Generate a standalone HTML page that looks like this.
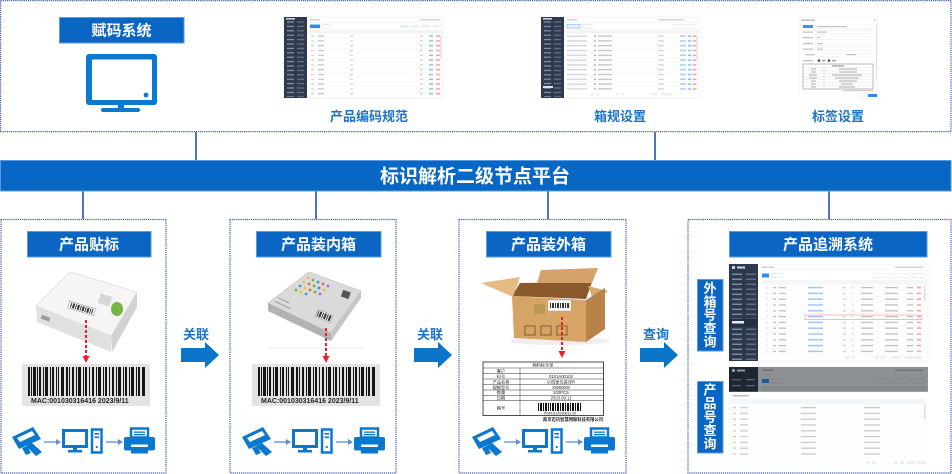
<!DOCTYPE html>
<html><head><meta charset="utf-8"><title>标识解析二级节点平台</title>
<style>
html,body{margin:0;padding:0;background:#fff;width:952px;height:474px;overflow:hidden}
svg{display:block}
text{font-family:"Liberation Sans","Noto Sans CJK SC",sans-serif}
.lb{font-weight:700;fill:#fff;font-size:15px;text-anchor:middle}
.bt{font-weight:700;fill:#1b73c7;font-size:13px;text-anchor:middle}
.vt{font-weight:700;fill:#fff;font-size:13px;text-anchor:middle}
.tt{font-size:4.2px;fill:#222;text-anchor:middle}
.mac{font-family:"Liberation Sans",sans-serif;font-weight:700;font-size:7px;fill:#222}
</style></head><body>
<svg width="952" height="474" viewBox="0 0 952 474" xmlns="http://www.w3.org/2000/svg">
<defs>
  <pattern id="sbA" x="0" y="3" width="23" height="4.4" patternUnits="userSpaceOnUse">
    <rect x="3" y="1.4" width="7" height="1.2" fill="#8b97a7"/>
    <rect x="13" y="1.4" width="7" height="1.2" fill="#66748a"/>
  </pattern>
  <pattern id="sbS" x="0" y="8" width="29" height="5" patternUnits="userSpaceOnUse">
    <rect x="3" y="1.6" width="10" height="1.3" fill="#8b97a7"/>
    <rect x="17" y="1.6" width="10" height="1.3" fill="#66748a"/>
  </pattern>
  <pattern id="pA" x="0" y="17" width="159" height="4.8" patternUnits="userSpaceOnUse">
    <rect x="27" y="1.5" width="3" height="1.2" fill="#cfcfcf"/>
    <rect x="34" y="1.5" width="6" height="1.2" fill="#bdbdbd"/>
    <rect x="66" y="1.5" width="3" height="1.2" fill="#cfcfcf"/>
    <rect x="136" y="1.5" width="3" height="1.2" fill="#cfcfcf"/>
    <rect x="145" y="1.3" width="4" height="1.6" fill="#8ec0f7"/>
    <rect x="152" y="1.3" width="4" height="1.6" fill="#f5a5a5"/>
    <rect x="23" y="4.5" width="136" height="0.3" fill="#eeeeee"/>
  </pattern>
  <pattern id="pB" x="0" y="17" width="158" height="4.8" patternUnits="userSpaceOnUse">
    <rect x="26" y="1.5" width="20" height="1.2" fill="#cfcfcf"/>
    <rect x="53" y="1.3" width="2" height="1.6" fill="#8ec0f7"/>
    <rect x="57" y="1.5" width="14" height="1.2" fill="#bdbdbd"/>
    <rect x="117" y="1.5" width="6" height="1.2" fill="#cfcfcf"/>
    <rect x="139" y="1.3" width="6" height="1.6" fill="#a9cff7"/>
    <rect x="147" y="1.3" width="3.5" height="1.6" fill="#8ec0f7"/>
    <rect x="152" y="1.3" width="3.5" height="1.6" fill="#f5a5a5"/>
    <rect x="23" y="4.5" width="135" height="0.3" fill="#eeeeee"/>
  </pattern>
  <pattern id="pS" x="0" y="21" width="199" height="5.8" patternUnits="userSpaceOnUse">
    <circle cx="38" cy="2.5" r="1.1" fill="none" stroke="#cfcfcf" stroke-width="0.4"/>
    <rect x="44" y="1.9" width="3" height="1.3" fill="#bdbdbd"/>
    <rect x="50" y="1.9" width="7" height="1.3" fill="#bdbdbd"/>
    <rect x="79" y="1.8" width="15" height="1.5" fill="#9ec5f5"/>
    <rect x="114" y="1.9" width="3" height="1.3" fill="#cfcfcf"/>
    <rect x="123" y="1.9" width="1.5" height="1.3" fill="#cfcfcf"/>
    <rect x="132" y="1.9" width="12" height="1.3" fill="#bdbdbd"/>
    <rect x="156" y="1.9" width="13" height="1.3" fill="#bdbdbd"/>
    <rect x="178" y="1.9" width="6" height="1.3" fill="#bdbdbd"/>
    <rect x="188" y="1.8" width="4" height="1.5" fill="#f3a0a0"/>
    <rect x="33" y="5.5" width="164" height="0.3" fill="#efefef"/>
  </pattern>
  <pattern id="pT" x="0" y="38" width="199" height="5.8" patternUnits="userSpaceOnUse">
    <rect x="4" y="1.9" width="3" height="1.3" fill="#c8c8c8"/>
    <rect x="11" y="1.9" width="8" height="1.3" fill="#c8c8c8"/>
    <rect x="72" y="1.9" width="15" height="1.3" fill="#c8c8c8"/>
    <rect x="135" y="1.9" width="16" height="1.3" fill="#c8c8c8"/>
    <rect x="2" y="5.5" width="194" height="0.3" fill="#efefef"/>
  </pattern>
  <g id="bc" fill="#161616">
    <rect x="0" width="2" height="29"/><rect x="3" width="1" height="29"/><rect x="5" width="3" height="29"/>
    <rect x="9" width="1" height="29"/><rect x="11" width="2" height="29"/><rect x="15" width="1" height="29"/>
    <rect x="17" width="3" height="29"/><rect x="22" width="1" height="29"/><rect x="24" width="2" height="29"/>
    <rect x="28" width="1" height="29"/><rect x="30" width="1" height="29"/><rect x="33" width="3" height="29"/>
    <rect x="38" width="2" height="29"/><rect x="41" width="1" height="29"/><rect x="44" width="2" height="29"/>
    <rect x="48" width="1" height="29"/><rect x="50" width="3" height="29"/><rect x="55" width="1" height="29"/>
    <rect x="57" width="2" height="29"/><rect x="61" width="1" height="29"/><rect x="64" width="2" height="29"/>
    <rect x="68" width="1" height="29"/><rect x="70" width="3" height="29"/><rect x="75" width="1" height="29"/>
    <rect x="77" width="2" height="29"/><rect x="81" width="1" height="29"/><rect x="84" width="2" height="29"/>
    <rect x="88" width="1" height="29"/><rect x="90" width="3" height="29"/><rect x="95" width="1" height="29"/>
    <rect x="97" width="2" height="29"/><rect x="101" width="1" height="29"/><rect x="103" width="3" height="29"/>
    <rect x="108" width="1" height="29"/><rect x="110" width="2" height="29"/><rect x="114" width="3" height="29"/>
  </g>
  <g id="icons">
    <g fill="#0b78d0">
      <polygon points="12,437 33,427 41,439 19,449"/>
      <polygon points="17,438 32,431 35,435 20,442" fill="#fff"/>
      <polygon points="26,446 32,443 42,452 36,456"/>
      <polygon points="22,448 27,446 31,453 26,455"/>
    </g>
    <line x1="44" y1="442" x2="57" y2="442" stroke="#5b8fd8" stroke-width="1.3"/>
    <polygon points="56,439 61,442 56,445" fill="#5b8fd8"/>
    <rect x="63.5" y="430.5" width="23" height="16" fill="#fff" stroke="#0b78d0" stroke-width="3"/>
    <rect x="73" y="447" width="4" height="4" fill="#0b78d0"/>
    <rect x="68" y="450" width="14" height="2.5" fill="#0b78d0"/>
    <rect x="92" y="429.5" width="9.5" height="23" fill="#fff" stroke="#0b78d0" stroke-width="2.5"/>
    <rect x="94.5" y="433" width="4.5" height="1.6" fill="#0b78d0"/>
    <rect x="94.5" y="436.5" width="4.5" height="1.6" fill="#0b78d0"/>
    <circle cx="96.7" cy="447" r="1.1" fill="#0b78d0"/>
    <line x1="106" y1="442" x2="119" y2="442" stroke="#5b8fd8" stroke-width="1.3"/>
    <polygon points="118,439 123,442 118,445" fill="#5b8fd8"/>
    <rect x="131" y="428.5" width="17" height="9" fill="#fff" stroke="#0b78d0" stroke-width="2.5"/>
    <rect x="134" y="431.5" width="11" height="1.3" fill="#0b78d0"/>
    <rect x="134" y="434" width="11" height="1.3" fill="#0b78d0"/>
    <rect x="124" y="437" width="31" height="13.5" rx="2" fill="#0b78d0"/>
    <rect x="131" y="444.5" width="17" height="2.5" fill="#fff"/>
    <rect x="131" y="450" width="17" height="3.5" fill="#0b78d0"/>
  </g>
</defs>

<!-- TOP BOX -->
<rect x="0.6" y="0.6" width="950.4" height="131" fill="#fff" stroke="#3f5fa8" stroke-width="1.2" stroke-dasharray="1.2 0.9"/>
<rect x="59.5" y="17.5" width="124.5" height="25.5" fill="#0a66c2" stroke="#5b9ae0" stroke-width="1"/>
<text class="lb" x="121.5" y="35.5">赋码系统</text>
<rect x="86" y="54" width="71" height="51" rx="3" fill="#0b79d0"/>
<rect x="92" y="59.5" width="60" height="40.5" rx="1" fill="#fff"/>
<circle cx="146" cy="95" r="2.4" fill="#0b79d0"/>
<rect x="118" y="104" width="6" height="5" fill="#0b79d0"/>
<rect x="101" y="108" width="39" height="4" rx="2" fill="#0b79d0"/>

<!-- Screenshot A -->
<g transform="translate(284,17)">
  <rect x="0" y="0" width="159" height="81" fill="#fff" stroke="#e3e6ea" stroke-width="0.5"/>
  <rect x="0" y="0" width="23" height="81" fill="#2e3b4f"/>
  <rect x="0" y="3" width="23" height="77" fill="url(#sbA)"/>
  <rect x="2" y="1" width="9" height="1.6" fill="#c9d1dc"/>
  <rect x="26" y="2" width="10" height="1.4" fill="#cfcfcf"/>
  <rect x="136" y="2" width="20" height="1.4" fill="#cfcfcf"/>
  <rect x="23" y="5" width="136" height="0.4" fill="#eeeeee"/>
  <rect x="26" y="7.5" width="10" height="3.6" fill="#2f8cf3"/>
  <rect x="38" y="7.5" width="8" height="3.6" fill="#fff" stroke="#cccccc" stroke-width="0.4"/>
  <rect x="116" y="7.8" width="8" height="3" fill="#e4effd"/>
  <rect x="127" y="7.8" width="8" height="3" fill="#f1f1f1"/>
  <rect x="138" y="7.8" width="8" height="3" fill="#f1f1f1"/>
  <rect x="149" y="7.8" width="8" height="3" fill="#f1f1f1"/>
  <rect x="23" y="13" width="136" height="3.6" fill="#f3f4f6"/>
  <rect x="23" y="17" width="136" height="62" fill="url(#pA)"/>
  <rect x="156" y="18" width="1.5" height="24" fill="#e2e2e2"/>
</g>
<text class="bt" x="369" y="121">产品编码规范</text>

<!-- Screenshot B -->
<g transform="translate(541,17)">
  <rect x="0" y="0" width="158" height="81" fill="#fff" stroke="#e3e6ea" stroke-width="0.5"/>
  <rect x="0" y="0" width="23" height="81" fill="#2e3b4f"/>
  <rect x="0" y="3" width="23" height="77" fill="url(#sbA)"/>
  <rect x="2" y="1" width="9" height="1.6" fill="#c9d1dc"/>
  <rect x="2" y="69" width="10" height="2" fill="#dfe4ea"/>
  <rect x="26" y="2" width="10" height="1.4" fill="#cfcfcf"/>
  <rect x="118" y="2" width="25" height="1.4" fill="#cfcfcf"/>
  <rect x="23" y="5" width="135" height="0.4" fill="#eeeeee"/>
  <rect x="26" y="7.5" width="13" height="3.6" fill="#e8f2fe" stroke="#5ea4f5" stroke-width="0.5"/>
  <rect x="41" y="7.5" width="10" height="3.6" fill="#fff" stroke="#cccccc" stroke-width="0.4"/>
  <rect x="132" y="7.5" width="22" height="3.6" fill="#fff" stroke="#dddddd" stroke-width="0.4"/>
  <rect x="23" y="13" width="135" height="3.6" fill="#f3f4f6"/>
  <rect x="23" y="17" width="135" height="57" fill="url(#pB)"/>
  <rect x="155" y="18" width="1.5" height="26" fill="#e2e2e2"/>
  <rect x="50" y="76" width="3" height="2.5" fill="#eeeeee"/><rect x="55" y="76" width="3" height="2.5" fill="#eeeeee"/>
  <rect x="75" y="76" width="3" height="2.5" fill="#eeeeee"/><rect x="80" y="76" width="3" height="2.5" fill="#eeeeee"/>
  <rect x="110" y="76" width="6" height="2.5" fill="#eeeeee"/><rect x="120" y="76" width="10" height="2.5" fill="#eeeeee"/>
</g>
<text class="bt" x="620" y="121">箱规设置</text>

<!-- Screenshot C -->
<g transform="translate(799,18)">
  <rect x="0" y="0" width="78" height="74" fill="#fff" stroke="#ececec" stroke-width="0.5"/>
  <rect x="2" y="1.5" width="14" height="1.4" fill="#bdbdbd"/>
  <rect x="75" y="1.5" width="1.4" height="1.4" fill="#bdbdbd"/>
  <rect x="4" y="7" width="10" height="3" fill="#3e8ef0"/>
  <rect x="16" y="7" width="57" height="3.2" fill="#fff" stroke="#e3e3e3" stroke-width="0.4"/>
  <rect x="18" y="8" width="30" height="1.2" fill="#c4c4c4"/>
  <rect x="4" y="13.5" width="10" height="1.3" fill="#c4c4c4"/>
  <rect x="16" y="12.5" width="57" height="3.2" fill="#fff" stroke="#e3e3e3" stroke-width="0.4"/>
  <rect x="18" y="13.5" width="10" height="1.2" fill="#c4c4c4"/>
  <rect x="4" y="19" width="10" height="1.3" fill="#c4c4c4"/>
  <rect x="16" y="18" width="57" height="3.2" fill="#fff" stroke="#e3e3e3" stroke-width="0.4"/>
  <rect x="18" y="19" width="3" height="1.2" fill="#c4c4c4"/>
  <rect x="4" y="25" width="10" height="1.3" fill="#c4c4c4"/>
  <rect x="16" y="24" width="57" height="3.2" fill="#fff" stroke="#e3e3e3" stroke-width="0.4"/>
  <rect x="18" y="25" width="6" height="1.2" fill="#c4c4c4"/>
  <rect x="4" y="30.5" width="10" height="1.3" fill="#c4c4c4"/>
  <rect x="16" y="29.5" width="57" height="3.2" fill="#fff" stroke="#e3e3e3" stroke-width="0.4"/>
  <rect x="18" y="30.5" width="6" height="1.2" fill="#c4c4c4"/>
  <rect x="6" y="36" width="10" height="1.3" fill="#c4c4c4"/>
  <rect x="18" y="35" width="24" height="3.2" fill="#fff" stroke="#e3e3e3" stroke-width="0.4"/>
  <rect x="47" y="36" width="10" height="1.3" fill="#c4c4c4"/>
  <rect x="59" y="35" width="14" height="3.2" fill="#fff" stroke="#e3e3e3" stroke-width="0.4"/>
  <rect x="4" y="42" width="10" height="1.3" fill="#c4c4c4"/>
  <circle cx="20" cy="42.6" r="1.3" fill="#555"/><rect x="23" y="42" width="3" height="1.3" fill="#999"/>
  <circle cx="30" cy="42.6" r="1.3" fill="#555"/><rect x="33" y="42" width="4" height="1.3" fill="#999"/>
  <rect x="4" y="46" width="70" height="25" fill="#fff" stroke="#a9a9a9" stroke-width="0.8"/>
  <rect x="33" y="47.3" width="12" height="1.2" fill="#999"/>
  <line x1="25" y1="49.5" x2="25" y2="70" stroke="#bbbbbb" stroke-width="0.4"/>
  <g stroke="#d5d5d5" stroke-width="0.3">
    <line x1="5" y1="49.5" x2="73" y2="49.5"/><line x1="5" y1="52.5" x2="73" y2="52.5"/>
    <line x1="5" y1="55.5" x2="73" y2="55.5"/><line x1="5" y1="58.5" x2="73" y2="58.5"/>
    <line x1="5" y1="61.5" x2="73" y2="61.5"/><line x1="5" y1="64.5" x2="73" y2="64.5"/>
    <line x1="5" y1="67.5" x2="73" y2="67.5"/>
  </g>
  <g fill="#aaaaaa">
    <rect x="12" y="50.5" width="5" height="1"/><rect x="40" y="50.5" width="18" height="1"/>
    <rect x="12" y="53.5" width="5" height="1"/><rect x="40" y="53.5" width="18" height="1"/>
    <rect x="10" y="56.5" width="8" height="1"/><rect x="33" y="56.5" width="30" height="1"/>
    <rect x="10" y="59.5" width="8" height="1"/><rect x="36" y="59.5" width="24" height="1"/>
    <rect x="12" y="62.5" width="5" height="1"/><rect x="40" y="62.5" width="18" height="1"/>
    <rect x="12" y="65.5" width="5" height="1"/><rect x="42" y="65.5" width="12" height="1"/>
    <rect x="12" y="68.5" width="5" height="1"/><rect x="40" y="68.5" width="16" height="1"/>
  </g>
  <rect x="44" y="72" width="30" height="1" fill="#cccccc"/>
  <rect x="77" y="7" width="1" height="55" fill="#e0e0e0"/>
  <rect x="60" y="76" width="7" height="3" fill="#fff" stroke="#ddd" stroke-width="0.4"/>
  <rect x="69" y="76" width="9" height="3" fill="#2f8cf3"/>
</g>
<text class="bt" x="838" y="121">标签设置</text>

<!-- CONNECTORS -->
<g stroke="#4b72c6" stroke-width="2">
  <line x1="196" y1="132" x2="196" y2="160"/>
  <line x1="655" y1="132" x2="655" y2="160"/>
  <line x1="83" y1="191" x2="83" y2="219"/>
  <line x1="316" y1="191" x2="316" y2="219"/>
  <line x1="548" y1="191" x2="548" y2="219"/>
  <line x1="829" y1="191" x2="829" y2="219"/>
</g>

<!-- PLATFORM BAR -->
<rect x="0.5" y="160.5" width="950.5" height="30.5" fill="#0866c4" stroke="#5a9ae0" stroke-width="1"/>
<text x="475" y="182.5" style="font-weight:700;fill:#fff;font-size:19px;text-anchor:middle">标识解析二级节点平台</text>

<!-- PANELS -->
<g fill="#fff" stroke="#3f5fa8" stroke-width="1.2" stroke-dasharray="1.2 0.9">
  <rect x="1" y="219.5" width="165" height="253.5"/>
  <rect x="230" y="219.5" width="166" height="253.5"/>
  <rect x="459" y="219.5" width="167" height="253.5"/>
  <rect x="688" y="219.5" width="263" height="253.5"/>
</g>

<g fill="#0a66c2" stroke="#5b9ae0" stroke-width="1">
  <rect x="27.5" y="231.5" width="123.5" height="25.5"/>
  <rect x="256.5" y="231.5" width="124.5" height="25.5"/>
  <rect x="486.5" y="231.5" width="124.5" height="25.5"/>
  <rect x="729.5" y="231.5" width="197.5" height="25.5"/>
  <rect x="697.5" y="279.5" width="25.5" height="71.5"/>
  <rect x="697.5" y="381.5" width="25.5" height="71.5"/>
</g>
<text class="lb" x="89" y="249.5">产品贴标</text>
<text class="lb" x="318.5" y="249.5">产品装内箱</text>
<text class="lb" x="548.5" y="249.5">产品装外箱</text>
<text class="lb" x="828" y="249.5">产品追溯系统</text>

<text class="vt" x="710" y="293">外</text>
<text class="vt" x="710" y="306.3">箱</text>
<text class="vt" x="710" y="319.6">号</text>
<text class="vt" x="710" y="333">查</text>
<text class="vt" x="710" y="346.3">询</text>
<text class="vt" x="710" y="394.5">产</text>
<text class="vt" x="710" y="408">品</text>
<text class="vt" x="710" y="421.5">号</text>
<text class="vt" x="710" y="435">查</text>
<text class="vt" x="710" y="448.5">询</text>

<!-- FLOW ARROWS -->
<g fill="#0a75c9">
  <rect x="181" y="348" width="25" height="14"/><polygon points="205,342 219,355 205,368"/>
  <rect x="414" y="348" width="25" height="14"/><polygon points="438,342 452,355 438,368"/>
  <rect x="640" y="348" width="25" height="14"/><polygon points="664,342 678,355 664,368"/>
</g>
<text class="bt" x="196" y="339">关联</text>
<text class="bt" x="430" y="339">关联</text>
<text class="bt" x="656" y="339">查询</text>

<!-- PANEL 1: device -->
<polygon points="36,306 111,336 111,352 37,322" fill="#e0e0e0"/>
<polygon points="111,336 137,292 137,307 112,352" fill="#d2d2d2"/>
<polygon points="36,306 70,272 137,292 111,336" fill="#f5f5f5" stroke="#dedede" stroke-width="0.8"/>
<rect x="41" y="316" width="9" height="4" fill="#9a9a9a" transform="rotate(20 45 318)"/>
<g transform="rotate(17 82 309)">
  <rect x="68" y="305" width="27" height="7" fill="#fff" stroke="#888" stroke-width="0.5"/>
  <g fill="#333"><rect x="70" y="306" width="1" height="5"/><rect x="72" y="306" width="2" height="5"/><rect x="75" y="306" width="1" height="5"/><rect x="77" y="306" width="2" height="5"/><rect x="80" y="306" width="1" height="5"/><rect x="82" y="306" width="2" height="5"/><rect x="85" y="306" width="1" height="5"/><rect x="87" y="306" width="2" height="5"/><rect x="90" y="306" width="1" height="5"/><rect x="92" y="306" width="1" height="5"/></g>
</g>
<rect x="99" y="295" width="12" height="10" fill="#d6d6d6" transform="rotate(17 105 300)"/>
<ellipse cx="117" cy="309" rx="6" ry="7" fill="#76b543"/>
<line x1="86" y1="320" x2="86" y2="357" stroke="#e8202a" stroke-width="2" stroke-dasharray="3 2"/>
<polygon points="82.5,356 89.5,356 86,363" fill="#e8202a"/>
<rect x="22" y="364" width="128" height="42" fill="#e3e3e3"/>
<use href="#bc" x="28" y="367"/>
<text class="mac" x="31" y="403">MAC:001030316416  2023/9/11</text>
<use href="#icons"/>

<!-- PANEL 2: board -->
<polygon points="268,303 331,333 331,341 268,311" fill="#b2b2b2"/>
<polygon points="331,333 361,291 361,298 331,341" fill="#c6c6c6"/>
<polygon points="268,303 309,272 361,291 331,333" fill="#dadada" stroke="#bdbdbd" stroke-width="0.6"/>
<g>
  <circle cx="308" cy="278" r="1.4" fill="#e8c23a"/><circle cx="313" cy="280" r="1.4" fill="#6cb24a"/><circle cx="318" cy="282" r="1.4" fill="#4a8fd8"/><circle cx="323" cy="284" r="1.4" fill="#e06a3a"/><circle cx="328" cy="286" r="1.4" fill="#b06ad0"/>
  <circle cx="304" cy="282" r="1.4" fill="#e8c23a"/><circle cx="309" cy="284" r="1.4" fill="#e06a3a"/><circle cx="314" cy="286" r="1.4" fill="#6cb24a"/><circle cx="319" cy="288" r="1.4" fill="#4a8fd8"/><circle cx="324" cy="290" r="1.4" fill="#e8c23a"/>
  <circle cx="300" cy="286" r="1.4" fill="#4a8fd8"/><circle cx="305" cy="288" r="1.4" fill="#e8c23a"/><circle cx="310" cy="290" r="1.4" fill="#e06a3a"/><circle cx="315" cy="292" r="1.4" fill="#6cb24a"/><circle cx="320" cy="294" r="1.4" fill="#b06ad0"/>
  <circle cx="296" cy="290" r="1.4" fill="#6cb24a"/><circle cx="301" cy="292" r="1.4" fill="#e8c23a"/><circle cx="306" cy="294" r="1.4" fill="#4a8fd8"/>
</g>
<rect x="342" y="291" width="8" height="7" fill="#555" transform="rotate(20 346 294)"/>
<g transform="rotate(22 324 316)">
  <rect x="316" y="312" width="16" height="8" fill="#f4f4f4" stroke="#777" stroke-width="0.4"/>
  <g fill="#333"><rect x="317" y="313" width="1" height="6"/><rect x="319" y="313" width="2" height="6"/><rect x="322" y="313" width="1" height="6"/><rect x="324" y="313" width="2" height="6"/><rect x="327" y="313" width="1" height="6"/><rect x="329" y="313" width="2" height="6"/></g>
</g>
<rect x="278" y="300" width="12" height="1" fill="#999" transform="rotate(25 284 300)"/>
<rect x="274" y="305" width="18" height="1" fill="#999" transform="rotate(25 284 305)"/>
<line x1="268" y1="348" x2="364" y2="348" stroke="#eeeeee" stroke-width="1"/>
<line x1="326" y1="328" x2="326" y2="357" stroke="#e8202a" stroke-width="2" stroke-dasharray="3 2"/>
<polygon points="322.5,356 329.5,356 326,363" fill="#e8202a"/>
<rect x="252" y="364" width="128" height="42" fill="#e3e3e3"/>
<use href="#bc" x="258" y="367"/>
<text class="mac" x="261" y="403">MAC:001030316416  2023/9/11</text>
<use href="#icons" x="230"/>

<!-- PANEL 3: carton -->
<ellipse cx="560" cy="341" rx="50" ry="4" fill="#eeeeee"/>
<polygon points="520,283 592,282 586,299 512,296" fill="#8a5a2c"/>
<polygon points="537,283 541,270 598,268 592,283" fill="#d4a26a"/>
<polygon points="481,283 520,277 513,297" fill="#e6bb82"/>
<polygon points="588,286 608,291 594,302" fill="#d9aa70"/>
<polygon points="512,296 586,300 586,342 514,338" fill="#d6a566"/>
<polygon points="586,300 605,288 605,329 586,342" fill="#b88348"/>
<rect x="534" y="304" width="11" height="10" fill="#b89a55"/>
<rect x="548" y="300" width="23" height="11" fill="#fff" stroke="#999" stroke-width="0.4"/>
<g fill="#333"><rect x="550" y="303" width="1" height="5"/><rect x="552" y="303" width="2" height="5"/><rect x="555" y="303" width="1" height="5"/><rect x="557" y="303" width="2" height="5"/><rect x="560" y="303" width="1" height="5"/><rect x="562" y="303" width="2" height="5"/><rect x="565" y="303" width="1" height="5"/><rect x="567" y="303" width="2" height="5"/></g>
<g fill="none" stroke="#6b4a26" stroke-width="0.8">
  <rect x="525" y="326" width="10" height="9"/><rect x="541" y="326" width="10" height="9"/><rect x="557" y="326" width="10" height="9"/>
</g>
<line x1="562" y1="317" x2="562" y2="352" stroke="#e8202a" stroke-width="2" stroke-dasharray="3 2"/>
<polygon points="558.5,351 565.5,351 562,358" fill="#e8202a"/>
<!-- label table -->
<rect x="483" y="362" width="120.5" height="53.5" fill="#fff" stroke="#222" stroke-width="0.8"/>
<g stroke="#333" stroke-width="0.5">
  <line x1="483" y1="368" x2="603.5" y2="368"/>
  <line x1="483" y1="373.5" x2="603.5" y2="373.5"/>
  <line x1="483" y1="379" x2="603.5" y2="379"/>
  <line x1="483" y1="384.5" x2="603.5" y2="384.5"/>
  <line x1="483" y1="390" x2="603.5" y2="390"/>
  <line x1="483" y1="395.3" x2="603.5" y2="395.3"/>
  <line x1="483" y1="400.7" x2="603.5" y2="400.7"/>
  <line x1="520" y1="368" x2="520" y2="415.5"/>
</g>
<text class="tt" x="543" y="366.5">物料标示单</text>
<text class="tt" x="501" y="372.3">客户</text>
<text class="tt" x="501" y="377.8">料号</text><text class="tt" x="561" y="377.8">0101A00102</text>
<text class="tt" x="501" y="383.3">产品名称</text><text class="tt" x="561" y="383.3">小四季互差评R</text>
<text class="tt" x="501" y="388.8">规格型号</text><text class="tt" x="561" y="388.8">XW000W</text>
<text class="tt" x="501" y="394.1">数量</text><text class="tt" x="561" y="394.1">100PCS</text>
<text class="tt" x="501" y="399.5">日期</text><text class="tt" x="561" y="399.5">2023.09.11</text>
<text class="tt" x="501" y="409.5">箱号</text>
<g fill="#111">
  <rect x="538" y="403" width="1" height="8"/><rect x="540" y="403" width="2" height="8"/><rect x="543" y="403" width="1" height="8"/><rect x="545" y="403" width="2" height="8"/><rect x="548" y="403" width="1" height="8"/><rect x="550" y="403" width="1" height="8"/><rect x="552" y="403" width="2" height="8"/><rect x="555" y="403" width="1" height="8"/><rect x="557" y="403" width="2" height="8"/><rect x="560" y="403" width="1" height="8"/><rect x="562" y="403" width="2" height="8"/><rect x="565" y="403" width="1" height="8"/><rect x="567" y="403" width="2" height="8"/><rect x="570" y="403" width="1" height="8"/><rect x="572" y="403" width="2" height="8"/><rect x="575" y="403" width="1" height="8"/><rect x="577" y="403" width="2" height="8"/><rect x="580" y="403" width="1" height="8"/>
</g>
<text class="tt" x="560" y="414.5" style="font-size:3.5px">P0401120230911 20</text>
<text class="tt" x="573" y="421" style="font-size:4.3px;font-weight:700">南京迈讯智慧物联科技有限公司</text>
<use href="#icons" x="460"/>

<!-- PANEL 4: Screenshot 1 -->
<g transform="translate(729,264)">
  <rect x="0" y="0" width="199" height="97" fill="#fff" stroke="#e3e6ea" stroke-width="0.5"/>
  <rect x="0" y="0" width="29" height="97" fill="#2d3a4e"/>
  <rect x="3" y="2" width="3" height="3" fill="#cfd6e0"/><rect x="8" y="2.5" width="8" height="2" fill="#cfd6e0"/>
  <rect x="0" y="8" width="29" height="88" fill="url(#sbS)"/>
  <rect x="0" y="55" width="29" height="8" fill="#243044"/>
  <rect x="3" y="57" width="12" height="2.5" fill="#e8ecf2"/>
  <rect x="33" y="2.5" width="12" height="1.4" fill="#cfcfcf"/>
  <rect x="166" y="2.5" width="28" height="1.4" fill="#cfcfcf"/>
  <rect x="29" y="6.5" width="170" height="0.4" fill="#eeeeee"/>
  <rect x="33" y="9.5" width="7" height="4" fill="#2f8cf3"/>
  <rect x="43" y="9.5" width="11" height="4" fill="#fff" stroke="#cccccc" stroke-width="0.4"/>
  <rect x="145" y="9.5" width="16" height="4" fill="#fff" stroke="#dddddd" stroke-width="0.4"/>
  <rect x="164" y="9.5" width="16" height="4" fill="#fff" stroke="#dddddd" stroke-width="0.4"/>
  <rect x="183" y="9.5" width="12" height="4" fill="#fff" stroke="#cccccc" stroke-width="0.4"/>
  <rect x="33" y="16" width="164" height="4.5" fill="#f5f6f8"/>
  <rect x="33" y="21" width="164" height="70" fill="url(#pS)"/>
  <rect x="76" y="51" width="117" height="4.6" fill="none" stroke="#f2a0a0" stroke-width="0.7"/>
  <rect x="195" y="21" width="1.5" height="16" fill="#dddddd"/>
  <g fill="#eeeeee">
    <rect x="116" y="92" width="4" height="3"/><rect x="122" y="92" width="4" height="3"/>
    <rect x="146" y="92" width="4" height="3"/><rect x="152" y="92" width="4" height="3"/>
    <rect x="162" y="92" width="10" height="3"/><rect x="175" y="92" width="18" height="3"/>
  </g>
</g>

<!-- PANEL 4: Screenshot 2 -->
<g transform="translate(729,367)">
  <rect x="0" y="0" width="199" height="101" fill="#fff"/>
  <rect x="0" y="0" width="199" height="25" fill="#8d9094"/>
  <rect x="0" y="0" width="29" height="25" fill="#1f2633"/>
  <rect x="3" y="2" width="3" height="3" fill="#8e96a2"/><rect x="8" y="2.5" width="8" height="2" fill="#8e96a2"/>
  <rect x="3" y="12" width="9" height="1.3" fill="#596273"/><rect x="17" y="12" width="9" height="1.3" fill="#596273"/>
  <rect x="3" y="18" width="9" height="1.3" fill="#596273"/><rect x="17" y="18" width="9" height="1.3" fill="#596273"/>
  <rect x="33" y="2.5" width="12" height="1.4" fill="#6e7175"/>
  <rect x="166" y="2.5" width="28" height="1.4" fill="#6e7175"/>
  <rect x="33" y="12" width="7" height="4" fill="#1d5a9e"/>
  <rect x="43" y="12" width="11" height="4" fill="#8d9094" stroke="#777" stroke-width="0.4"/>
  <rect x="145" y="12" width="16" height="4" fill="#8d9094" stroke="#7a7d80" stroke-width="0.4"/>
  <rect x="164" y="12" width="16" height="4" fill="#8d9094" stroke="#7a7d80" stroke-width="0.4"/>
  <rect x="183" y="12" width="12" height="4" fill="#8d9094" stroke="#777" stroke-width="0.4"/>
  <rect x="33" y="19" width="164" height="5" fill="#85888c"/>
  <rect x="1" y="25" width="197" height="76" fill="#fff" stroke="#eeeeee" stroke-width="0.4"/>
  <rect x="4" y="28" width="16" height="1.5" fill="#bbbbbb"/>
  <rect x="2" y="32" width="194" height="5" fill="#f5f6f8"/>
  <rect x="2" y="38" width="196" height="54" fill="url(#pT)"/>
  <rect x="195" y="38" width="1.5" height="14" fill="#dddddd"/>
  <g fill="#eeeeee">
    <rect x="137" y="94" width="4" height="3"/><rect x="143" y="94" width="4" height="3"/>
    <rect x="165" y="94" width="4" height="3"/><rect x="171" y="94" width="4" height="3"/>
    <rect x="178" y="94" width="8" height="3"/><rect x="188" y="94" width="9" height="3"/>
  </g>
</g>
</svg>
</body></html>
